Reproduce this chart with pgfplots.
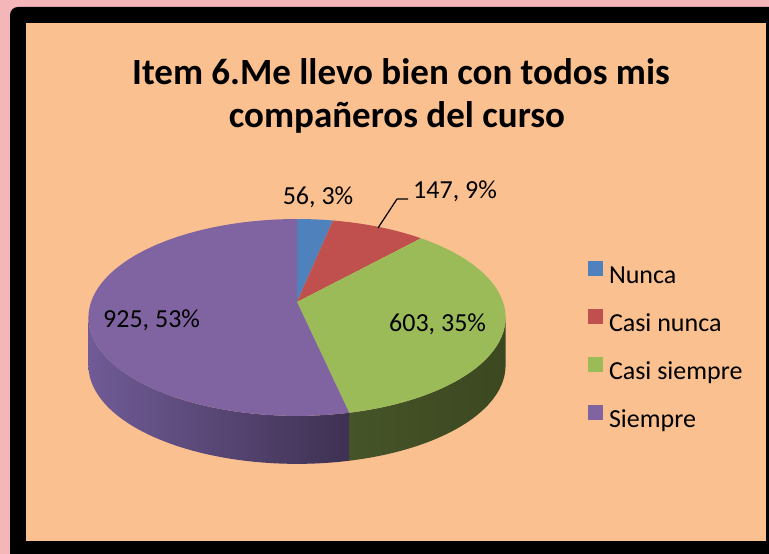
\documentclass[border=0pt]{standalone}
\usepackage{pgfplots}
\usepackage{pgfplotstable}
\pgfplotsset{compat=1.18}
\usepackage{fontspec}
\setmainfont{Carlito}
\definecolor{cblue}{RGB}{79,129,189}
\definecolor{cred}{RGB}{192,80,77}
\definecolor{cgreen}{RGB}{155,187,89}
\definecolor{cpurple}{RGB}{128,100,162}
\definecolor{gL}{RGB}{70,84,41}
\definecolor{gR}{RGB}{60,72,32}
\definecolor{pL}{RGB}{112,91,150}
\definecolor{pR}{RGB}{62,49,82}
\definecolor{peach}{RGB}{250,192,144}
\definecolor{pinkbg}{RGB}{245,182,185}
\newcommand\lbl{\fontsize{26}{31}\selectfont}
\newcommand\ttl{\fontsize{37}{44}\selectfont\bfseries}
\pgfplotstableread{
label value
Nunca 56
{Casi nunca} 147
{Casi siempre} 603
Siempre 925
}\piedata
\begin{document}
\begin{tikzpicture}
\pgfplotstablegetelem{0}{value}\of\piedata \let\va\pgfplotsretval
\pgfplotstablegetelem{1}{value}\of\piedata \let\vb\pgfplotsretval
\pgfplotstablegetelem{2}{value}\of\piedata \let\vc\pgfplotsretval
\pgfplotstablegetelem{3}{value}\of\piedata \let\vd\pgfplotsretval
\pgfmathsetmacro\total{\va+\vb+\vc+\vd}
\pgfmathsetmacro\aA{360*(\va/\total)}
\pgfmathsetmacro\aB{\aA+360*(\vb/\total)}
\pgfmathsetmacro\aC{\aB+360*(\vc/\total)}
% geometry (perspective view of the pie)
\def\ax{297}\def\ay{252}\def\rx{206}\def\ry{96}\def\dep{48}\def\kk{0.157}
\pgfmathsetmacro\bz{-\kk/(1-\kk*\kk)}
\pgfmathsetmacro\Aa{1/sqrt(1-\kk*\kk)}
\pgfmathsetmacro\Ab{1/(1-\kk*\kk)}
\pgfmathsetmacro\ERx{\rx*\Aa}
\pgfmathsetmacro\ERy{\ry*\Ab}
\pgfmathsetmacro\ey{\ay+\ry*\bz}
\pgfmathsetmacro\exr{\ax+\ERx}
\newcommand\rimcalc[4]{%
  \pgfmathsetmacro\tmpt{1/(1+\kk*cos(#1))}%
  \pgfmathsetmacro#2{\ax+\rx*sin(#1)*\tmpt}%
  \pgfmathsetmacro#3{\ay+\ry*cos(#1)*\tmpt}%
  \pgfmathsetmacro#4{atan2((cos(#1)*\tmpt-\bz)/\Ab, sin(#1)*\tmpt/\Aa)}}
\rimcalc{0}{\Pax}{\Pay}{\Paphi}
\rimcalc{\aA}{\Pbx}{\Pby}{\Pbphi}
\rimcalc{\aB}{\Pcx}{\Pcy}{\Pcphi}
\rimcalc{\aC}{\Pdx}{\Pdy}{\Pdphi}
\pgfmathsetmacro\Pephi{\Paphi-360}
\begin{axis}[x=1pt, y=1pt, xmin=0, xmax=769, ymin=0, ymax=554,
  hide axis, enlargelimits=false, clip=false,
  legend image code/.code={\fill[#1] (0pt,0pt) rectangle (15pt,15pt);},
  legend cell align=left,
  legend style={at={(axis cs:588,293)}, anchor=north west, draw=none, fill=none,
    inner sep=0pt, outer sep=0pt, row sep=20.5pt, column sep=6pt, font=\lbl,
    nodes={inner sep=0pt, text height=20pt, text depth=5pt}},
  ]
% background and frame
\fill[pinkbg] (0,0) rectangle (769,554);
\fill[black] (10,0) -- (10,539) arc[start angle=180, end angle=90, radius=8pt] -- (769,547) -- (769,0) -- cycle;
\fill[peach] (26,13) rectangle (766,531);
% side faces
\shade[left color=gL, right color=gR] (\exr,\ey) arc[start angle=0, end angle=\Pdphi, x radius=\ERx pt, y radius=\ERy pt]
  -- ++(0pt,-\dep pt) arc[start angle=\Pdphi, end angle=0, x radius=\ERx pt, y radius=\ERy pt] -- cycle;
\shade[left color=pL, right color=pR] (\Pdx,\Pdy) arc[start angle=\Pdphi, end angle=-180, x radius=\ERx pt, y radius=\ERy pt]
  -- ++(0pt,-\dep pt) arc[start angle=-180, end angle=\Pdphi, x radius=\ERx pt, y radius=\ERy pt] -- cycle;
% top faces
\fill[cblue] (\ax,\ay) -- (\Pax,\Pay) arc[start angle=\Paphi, end angle=\Pbphi, x radius=\ERx pt, y radius=\ERy pt] -- cycle;
\fill[cred] (\ax,\ay) -- (\Pbx,\Pby) arc[start angle=\Pbphi, end angle=\Pcphi, x radius=\ERx pt, y radius=\ERy pt] -- cycle;
\fill[cgreen] (\ax,\ay) -- (\Pcx,\Pcy) arc[start angle=\Pcphi, end angle=\Pdphi, x radius=\ERx pt, y radius=\ERy pt] -- cycle;
\fill[cpurple] (\ax,\ay) -- (\Pdx,\Pdy) arc[start angle=\Pdphi, end angle=\Pephi, x radius=\ERx pt, y radius=\ERy pt] -- cycle;
% title
\node[anchor=base, inner sep=0pt, font=\ttl] at (401,469) {Item 6.Me llevo bien con todos mis};
\node[anchor=base, inner sep=0pt, font=\ttl] at (397,426) {compañeros del curso};
% data labels
\node[anchor=base, inner sep=0pt, font=\lbl] at (318,349) {56, 3\%};
\node[anchor=base west, inner sep=0pt, font=\lbl] at (413,355) {147, 9\%};
\node[anchor=base west, inner sep=0pt, font=\lbl] at (103,226) {925, 53\%};
\node[anchor=base west, inner sep=0pt, font=\lbl] at (389,222) {603, 35\%};
\draw[black, line width=1.2pt] (378,326) -- (397,355) -- (408,355);
% legend
\addlegendimage{fill=cblue, draw=none}\addlegendentry{Nunca}
\addlegendimage{fill=cred, draw=none}\addlegendentry{Casi nunca}
\addlegendimage{fill=cgreen, draw=none}\addlegendentry{Casi siempre}
\addlegendimage{fill=cpurple, draw=none}\addlegendentry{Siempre}
\end{axis}
\end{tikzpicture}
\end{document}
